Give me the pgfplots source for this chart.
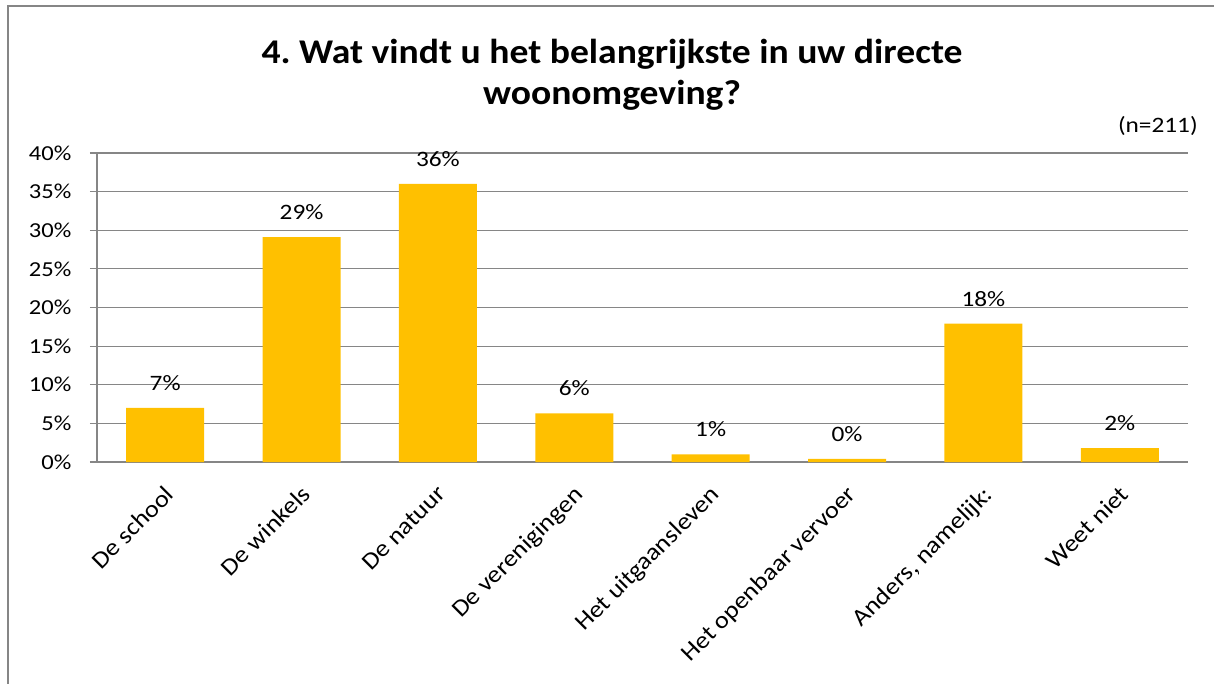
\documentclass[border=0pt]{standalone}
\usepackage{pgfplots}
\pgfplotsset{compat=1.18}
\usepackage{fontspec}
\setmainfont{Carlito}
\definecolor{bargold}{HTML}{FFC000}
\definecolor{gridgray}{HTML}{868686}
\begin{document}
\begin{tikzpicture}
\useasboundingbox (0,0) rectangle (910.5pt,-513pt);
\draw[gridgray, line width=1.2pt] (6pt,-513pt) -- (6pt,-4.5pt) -- (910.5pt,-4.5pt);
\node[font=\fontsize{26}{30}\selectfont\bfseries, anchor=base, xscale=1.085] at (459pt,-47.5pt) {4.\ Wat vindt u het belangrijkste in uw directe};
\node[font=\fontsize{26}{30}\selectfont\bfseries, anchor=base, xscale=1.085] at (459pt,-78.5pt) {woonomgeving?};
\node[font=\fontsize{16.5}{19}\selectfont, anchor=base east, inner sep=0pt, xscale=1.15] at (898.5pt,-99.5pt) {(n=211)};
\begin{axis}[
  at={(72.75pt,-346.5pt)}, anchor=south west,
  scale only axis, width=818.25pt, height=231.75pt,
  xmin=-0.5, xmax=7.5, ymin=0, ymax=40,
  ytick={0,5,...,40},
  yticklabel={\pgfmathprintnumber{\tick}\%},
  ymajorgrids, grid style={gridgray, line width=0.9pt},
  axis x line*=bottom, axis y line*=left,
  axis line style={gridgray, line width=0.9pt},
  tick align=outside,
  major tick length=5.25pt,
  minor tick length=6pt,
  tick style={gridgray, line width=0.9pt},
  x tick style={draw=none},
  xtick={0,...,7},
  minor xtick={-0.5,0.5,...,7.5},
  xticklabels={De school, De winkels, De natuur, De verenigingen, Het uitgaansleven, Het openbaar vervoer, {Anders, namelijk:}, Weet niet},
  xticklabel style={font=\fontsize{18}{21}\selectfont, rotate=45, xscale=1.1, anchor=north east, inner sep=1pt, xshift=-7pt, yshift=-6pt},
  yticklabel style={font=\fontsize{16}{19}\selectfont, xscale=1.15, inner sep=0pt, xshift=-12pt},
  /pgf/number format/assume math mode=true,
  ybar, bar width=58.5pt,
  nodes near coords={\pgfmathprintnumber[fixed,precision=0]{\pgfplotspointmeta}\%},
  nodes near coords style={font=\fontsize{16.5}{19}\selectfont, xscale=1.15, black, anchor=south, yshift=9.5pt},
  clip=false,
]
\addplot[fill=bargold, draw=none] coordinates {
(0,7.0) (1,29.1) (2,36.0) (3,6.3) (4,1.0) (5,0.4) (6,17.9) (7,1.8)
};
\end{axis}
\end{tikzpicture}
\end{document}
